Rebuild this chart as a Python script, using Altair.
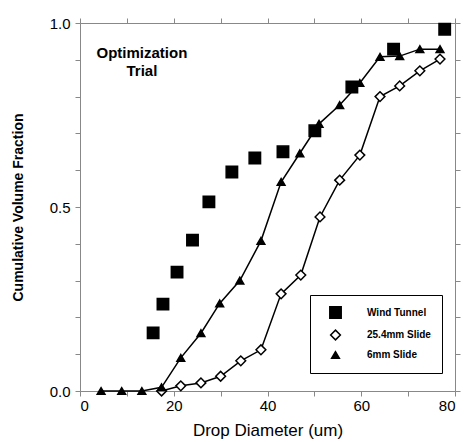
import altair as alt
import pandas as pd

# Data
wt_d = [15.6, 17.7, 20.7, 24.0, 27.5, 32.4, 37.3, 43.3, 50.1, 58.0, 66.9, 77.8]
wt_v = [0.158, 0.236, 0.323, 0.41, 0.514, 0.595, 0.633, 0.65, 0.707, 0.826, 0.929, 0.983]

s25_d = [17.4, 21.5, 25.8, 30.0, 34.3, 38.6, 42.9, 47.1, 51.2, 55.4, 59.7, 64.0, 68.2, 72.5, 76.8]
s25_v = [0.0, 0.014, 0.022, 0.04, 0.082, 0.112, 0.264, 0.315, 0.473, 0.573, 0.641, 0.80, 0.829, 0.87, 0.902]

s6_d = [4.5, 8.9, 13.2, 17.4, 21.5, 25.8, 29.8, 34.1, 38.6, 42.9, 46.9, 51.0, 55.4, 59.7, 64.0, 68.2, 72.5, 76.8]
s6_v = [0.0, 0.0, 0.0, 0.01, 0.09, 0.157, 0.238, 0.30, 0.408, 0.568, 0.646, 0.726, 0.777, 0.837, 0.908, 0.91, 0.929, 0.929]

series_names = ["Wind Tunnel", "25.4mm Slide", "6mm Slide"]
x_ticks = [0, 10, 20, 30, 40, 50, 60, 70, 80]
y_ticks = [0.0, 0.1, 0.2, 0.3, 0.4, 0.5, 0.6, 0.7, 0.8, 0.9, 1.0]

rows = []
for name, ds, vs in [(series_names[0], wt_d, wt_v), (series_names[1], s25_d, s25_v), (series_names[2], s6_d, s6_v)]:
    for d, v in zip(ds, vs):
        rows.append({"d": d, "v": v, "series": name})
df = pd.DataFrame(rows)

FONT = "Liberation Sans"
xscale = alt.Scale(domain=[0, 80], nice=False, zero=False)
yscale = alt.Scale(domain=[0, 1], nice=False, zero=False)

x_bottom = alt.Axis(values=x_ticks, labelExpr="datum.value % 20 == 0 ? datum.label : ''",
                    title="Drop Diameter (um)", titleFontSize=17, titleFontWeight="normal",
                    titlePadding=9, labelFontSize=15, labelPadding=2, grid=False)
y_left = alt.Axis(values=y_ticks, format=".1f",
                  labelExpr="abs(datum.value*2 - round(datum.value*2)) < 0.001 ? datum.label : ''",
                  title="Cumulative Volume Fraction", titleFontSize=14, titleFontWeight="bold",
                  titlePadding=24, labelFontSize=15, labelPadding=5, grid=False)
x_top = alt.Axis(orient="top", values=x_ticks, labels=False, title=None, grid=False)
y_right = alt.Axis(orient="right", values=y_ticks, labels=False, title=None, grid=False)

base = alt.Chart(df)

lines = base.transform_filter(alt.datum.series != "Wind Tunnel").mark_line(
    color="black", strokeWidth=1.5
).encode(
    x=alt.X("d:Q", scale=xscale, axis=x_bottom),
    y=alt.Y("v:Q", scale=yscale, axis=y_left),
    detail="series:N",
    order="d:Q",
)

legend = alt.Legend(title=None, orient="none", legendX=230, legendY=272,
                    strokeColor="black", padding=11, symbolOffset=8, labelOffset=25,
                    labelFont=FONT, labelFontSize=10, labelFontWeight="bold",
                    rowPadding=5, symbolStrokeWidth=1.5)

points = base.mark_point(filled=True, strokeWidth=1.5, opacity=1).encode(
    x=alt.X("d:Q", scale=xscale, axis=None),
    y=alt.Y("v:Q", scale=yscale, axis=None),
    shape=alt.Shape("series:N", scale=alt.Scale(domain=series_names, range=["square", "diamond", "triangle-up"]), legend=legend),
    fill=alt.Fill("series:N", scale=alt.Scale(domain=series_names, range=["black", "white", "black"]), legend=legend),
    stroke=alt.Stroke("series:N", scale=alt.Scale(domain=series_names, range=["black", "black", "black"]), legend=legend),
    size=alt.Size("series:N", scale=alt.Scale(domain=series_names, range=[130, 60, 170]), legend=legend),
)

frame = base.mark_point(opacity=0).encode(
    x=alt.X("d:Q", scale=xscale, axis=x_top),
    y=alt.Y("v:Q", scale=yscale, axis=y_right),
)

note_df = pd.DataFrame({"d": [13.2], "v": [0.918], "t": [["Optimization", "Trial"]]})
note = alt.Chart(note_df).mark_text(font=FONT, fontSize=15, fontWeight="bold", lineHeight=18,
                                    align="center", baseline="middle", color="black").encode(
    x=alt.X("d:Q", scale=xscale, axis=None),
    y=alt.Y("v:Q", scale=yscale, axis=None),
    text="t",
)

chart = alt.layer(lines, points, note, frame).resolve_axis(x="independent", y="independent").properties(
    width=375, height=368,
    padding={"left": 80, "top": 23, "right": 9, "bottom": 51},
    autosize=alt.AutoSizeParams(type="none"),
).configure_view(stroke=None).configure_axis(
    domainColor="black", domainWidth=2, tickColor="black", tickWidth=1.5, tickSize=12,
    labelColor="black", titleColor="black", labelFont=FONT, titleFont=FONT,
).configure(background="white")

chart.save("out.html", embed_options={"renderer": "svg", "actions": False})
